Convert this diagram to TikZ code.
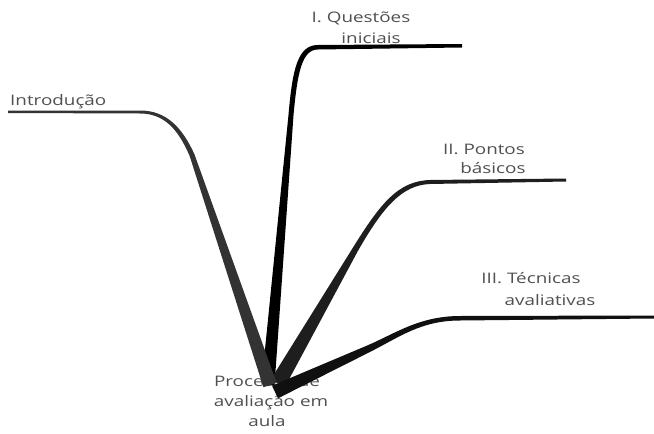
\documentclass[tikz,border=0pt]{standalone}
\usepackage{fontspec}
\setmainfont{Open Sans}[FakeStretch=1.3]
\definecolor{txt}{HTML}{505050}
\definecolor{cIntro}{HTML}{333333}
\definecolor{cQ}{HTML}{000000}
\definecolor{cP}{HTML}{1E1E1E}
\definecolor{cT}{HTML}{101010}
\begin{document}
\begin{tikzpicture}[x=1pt,y=-1pt,
  lbl/.style={inner sep=0pt,text=txt,font=\fontsize{14.5}{18}\selectfont,anchor=base}]
\useasboundingbox (0,0) rectangle (654,434);
% central label (behind branches)
\node[lbl] (c1) at (267,386) {Processo de};
\node[lbl] (c2) at (271,406) {avaliação em};
\node[lbl] (c3) at (267,426) {aula};
% I. Questoes iniciais
\fill[cQ] (462,44) -- (318,45) .. controls (298,45) and (292.5,68) .. (288.5,114.8)
  -- (261.5,384.4) -- (274.5,385.6) -- (293.5,115.2)
  .. controls (297.5,72) and (302,49.5) .. (318,49.5) -- (462,47.5) -- cycle;
% II. Pontos basicos
\fill[cP] (566,178.5) -- (430,180) .. controls (398,181) and (380.3,203.5) .. (352.4,248.5)
  -- (271.1,379) -- (284.9,387) -- (357.6,251.5)
  .. controls (383,207) and (402,185) .. (430,184) -- (566,181.5) -- cycle;
% III. Tecnicas avaliativas
\fill[cT] (654,315.5) -- (460,316) .. controls (419,316) and (394.5,334) .. (366.5,345.8)
  -- (272,385.7) -- (278,398.3) -- (369.5,352.2)
  .. controls (399.5,337.1) and (421,320.5) .. (460,320.5) -- (654,318.5) -- cycle;
% Introducao
\fill[cIntro] (8,110.5) -- (140,110.5) .. controls (166,110.5) and (182,127) .. (194.4,154.2)
  -- (276.6,382.8) -- (263.4,387.2) -- (189.6,155.8)
  .. controls (178,129) and (164,113.5) .. (140,113.5) -- (8,113) -- cycle;
% branch labels
\node[lbl,anchor=base west] (intro) at (10,105) {Introdução};
\node[lbl] (q1) at (361,22) {I. Questões};
\node[lbl] (q2) at (371,43) {iniciais};
\node[lbl] (p1) at (484,154) {II. Pontos};
\node[lbl] (p2) at (493,173) {básicos};
\node[lbl] (t1) at (531,283) {III. Técnicas};
\node[lbl] (t2) at (550,305) {avaliativas};
\end{tikzpicture}
\end{document}
